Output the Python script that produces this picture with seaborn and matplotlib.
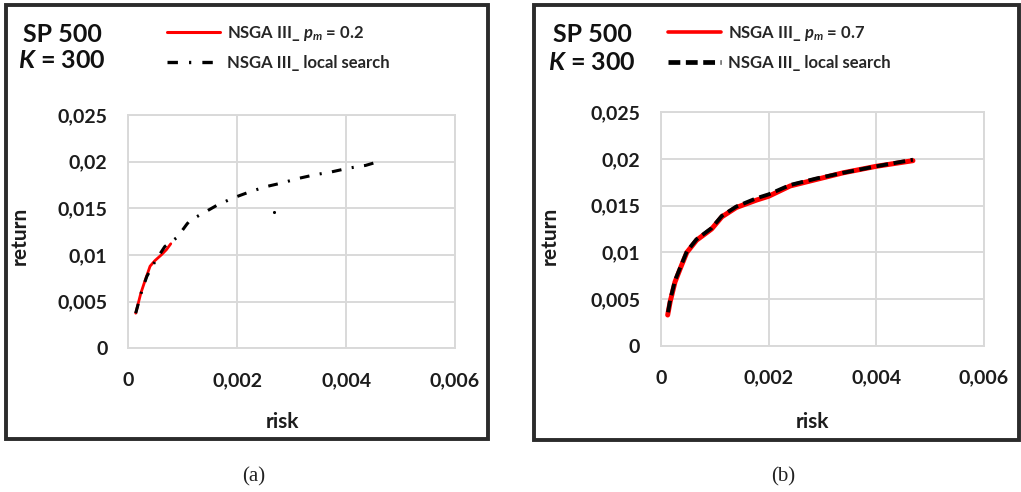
import numpy as np
import pandas as pd
import matplotlib
matplotlib.use("Agg")
import matplotlib.pyplot as plt
from matplotlib.patches import Rectangle
from matplotlib.lines import Line2D
import seaborn as sns

# ---- data: panel (a), p_m = 0.2 ----
a_ga_risk = [0.000136, 0.00023, 0.00031, 0.00040, 0.00049, 0.00061, 0.00070, 0.00078]
a_ga_ret = [0.00376, 0.0059, 0.0073, 0.0088, 0.0094, 0.01003, 0.01057, 0.0112]

a_ls_risk = [0.000136, 0.000245, 0.00034, 0.00049, 0.00067, 0.00076, 0.00090, 0.00107,
             0.00113, 0.00135, 0.00162, 0.00192, 0.0022, 0.00251, 0.00281, 0.00312,
             0.00343, 0.00373, 0.00404, 0.00436, 0.00459]
a_ls_ret = [0.00376, 0.0061, 0.0077, 0.0093, 0.0109, 0.0113, 0.0119, 0.01326,
            0.01369, 0.0144, 0.0153, 0.0161, 0.0167, 0.0173, 0.0177, 0.0182,
            0.0186, 0.0189, 0.0193, 0.0196, 0.0200]
a_outlier_risk = [0.00268]
a_outlier_ret = [0.01458]

# ---- data: panel (b), p_m = 0.7 ----
b_ga_risk = [0.000124, 0.00017, 0.00026, 0.00038, 0.00048, 0.00066, 0.00094, 0.00113,
             0.0014, 0.00178, 0.0020, 0.0024, 0.00289, 0.00338, 0.0040, 0.00468]
b_ga_ret = [0.00331, 0.00473, 0.00684, 0.0086, 0.0100, 0.0113, 0.0125, 0.0138,
            0.0148, 0.0156, 0.0160, 0.0171, 0.0178, 0.0185, 0.0192, 0.0198]
b_ls_risk = [0.00013, 0.00017, 0.00026, 0.00038, 0.00048, 0.00066, 0.00094, 0.00113,
             0.0014, 0.00178, 0.0020, 0.0024, 0.00289, 0.00338, 0.0040, 0.00468]
b_ls_ret = [0.0036, 0.0049, 0.0070, 0.0087, 0.0101, 0.0114, 0.0126, 0.0139,
            0.0149, 0.0158, 0.0162, 0.0172, 0.0179, 0.0185, 0.0192, 0.0199]

x_ticks = [0, 0.002, 0.004, 0.006]
y_ticks = [0, 0.005, 0.01, 0.015, 0.02, 0.025]

sns.set_theme(style="white")
plt.rcParams["font.family"] = ["Lato", "DejaVu Sans"]
plt.rcParams["mathtext.fontset"] = "custom"
plt.rcParams["mathtext.it"] = "Lato:italic:bold"
plt.rcParams["mathtext.rm"] = "Lato:bold"
plt.rcParams["lines.scale_dashes"] = False

W, H = 1021, 492
fig = plt.figure(figsize=(W / 100, H / 100), dpi=100)


def fx(px):
    return px / W


def fy(py):
    return 1 - py / H


def comma(v):
    return "0" if v == 0 else f"{v:g}".replace(".", ",")


GRID = "#d9d9d9"
INK = "#1c1c1c"
DASHDOT = (0, (7, 7.5, 1.5, 7.5))
DASHED = (0, (8.5, 4))


def style_axes(ax):
    ax.set_xlim(0, 0.006)
    ax.set_ylim(0, 0.025)
    ax.set_xticks(x_ticks)
    ax.set_yticks(y_ticks)
    ax.set_xticklabels([comma(v) for v in x_ticks], fontsize=14, fontweight="bold")
    ax.set_yticklabels([comma(v) for v in y_ticks], fontsize=14, fontweight="bold")
    ax.tick_params(axis="x", length=0, pad=17, colors=INK)
    ax.tick_params(axis="y", length=0, pad=15, colors=INK)
    ax.grid(True, color=GRID, linewidth=1.4)
    for s in ax.spines.values():
        s.set_color(GRID)
        s.set_linewidth(1.4)
    ax.set_xlabel("")
    ax.set_ylabel("")


# figure frames around both panels
fig.add_artist(Rectangle((fx(6), fy(439)), fx(482), 434 / H, transform=fig.transFigure,
                         fill=False, edgecolor="#2b2b2b", linewidth=2.8))
fig.add_artist(Rectangle((fx(534), fy(440)), fx(485), 435 / H, transform=fig.transFigure,
                         fill=False, edgecolor="#2b2b2b", linewidth=2.8))

# ---- panel (a) ----
axa = fig.add_axes([fx(128.3), fy(348.3), fx(455 - 128.3), (348.3 - 115) / H])
sns.lineplot(x=a_ga_risk, y=a_ga_ret, ax=axa, sort=False, estimator=None,
             color="#ff0000", linewidth=2.0, zorder=2)
sns.lineplot(x=a_ls_risk, y=a_ls_ret, ax=axa, sort=False, estimator=None,
             color="black", linewidth=2.2, linestyle=DASHDOT, zorder=3)
sns.scatterplot(x=a_outlier_risk, y=a_outlier_ret, ax=axa, color="black", s=5,
                linewidth=0, zorder=3)
style_axes(axa)

# ---- panel (b) ----
axb = fig.add_axes([fx(661), fy(346), fx(984 - 661), (346 - 112) / H])
sns.lineplot(x=b_ga_risk, y=b_ga_ret, ax=axb, sort=False, estimator=None,
             color="#ff0000", linewidth=3.6, zorder=2)
sns.lineplot(x=b_ls_risk, y=b_ls_ret, ax=axb, sort=False, estimator=None,
             color="black", linewidth=2.8, linestyle=DASHED, zorder=3)
style_axes(axb)

# axis titles, panel titles, captions
for x0 in (0, 530):
    fig.text(fx(x0 + 20), fy(236), "return", rotation=90, ha="center", va="center",
             fontsize=15, fontweight="bold", color=INK)
    fig.text(fx(x0 + 282), fy(422), "risk", ha="center", va="center",
             fontsize=15, fontweight="bold", color=INK)

fig.text(fx(62), fy(35), "SP 500", ha="center", va="center", fontsize=18,
         fontweight="bold", color="#111111")
fig.text(fx(62), fy(60), r"$K$ = 300", ha="center", va="center", fontsize=18,
         fontweight="bold", color="#111111")
fig.text(fx(592), fy(35), "SP 500", ha="center", va="center", fontsize=18,
         fontweight="bold", color="#111111")
fig.text(fx(592), fy(62), r"$K$ = 300", ha="center", va="center", fontsize=18,
         fontweight="bold", color="#111111")

fig.text(fx(254), fy(477), "(a)", ha="center", va="center", fontsize=15,
         family="Liberation Serif", color="#222222")
fig.text(fx(783), fy(477), "(b)", ha="center", va="center", fontsize=15,
         family="Liberation Serif", color="#222222")

# legends
leg_a = [Line2D([], [], color="#ff0000", linewidth=2.2),
         Line2D([], [], color="black", linewidth=2.4, linestyle=(0, (7.5, 8, 1.6, 8)))]
leg_b = [Line2D([], [], color="#ff0000", linewidth=2.6),
         Line2D([], [], color="black", linewidth=3.4, linestyle=(0, (8.5, 4)))]
fig.legend(leg_a, [r"NSGA III_ $p_m$ = 0.2", "NSGA III_ local search"],
           loc="upper left", bbox_to_anchor=(fx(162), fy(19)), frameon=False,
           handlelength=3.2, handletextpad=0.4, labelspacing=0.72,
           borderaxespad=0, borderpad=0.3, prop={"weight": "bold", "size": 12})
fig.legend(leg_b, [r"NSGA III_ $p_m$ = 0.7", "NSGA III_ local search"],
           loc="upper left", bbox_to_anchor=(fx(663), fy(19)), frameon=False,
           handlelength=3.2, handletextpad=0.4, labelspacing=0.72,
           borderaxespad=0, borderpad=0.3, prop={"weight": "bold", "size": 12})

fig.savefig("out.png", dpi=100)
